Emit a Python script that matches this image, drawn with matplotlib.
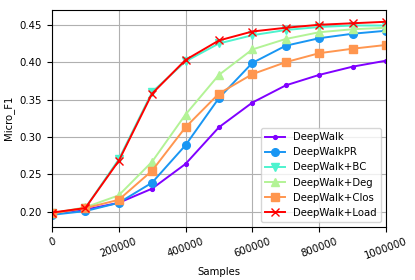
import matplotlib
matplotlib.use("Agg")
import matplotlib.pyplot as plt
import numpy as np

samples = [0, 100000, 200000, 300000, 400000, 500000, 600000, 700000, 800000, 900000, 1000000]

deepwalk = [0.197, 0.203, 0.212, 0.231, 0.264, 0.313, 0.346, 0.369, 0.383, 0.394, 0.402]
deepwalk_pr = [0.196, 0.201, 0.212, 0.239, 0.289, 0.352, 0.399, 0.422, 0.432, 0.438, 0.442]
deepwalk_bc = [0.198, 0.205, 0.270, 0.360, 0.401, 0.425, 0.436, 0.443, 0.447, 0.449, 0.449]
deepwalk_deg = [0.198, 0.206, 0.222, 0.267, 0.330, 0.383, 0.417, 0.431, 0.440, 0.444, 0.446]
deepwalk_clos = [0.198, 0.205, 0.216, 0.255, 0.313, 0.358, 0.384, 0.400, 0.412, 0.418, 0.423]
deepwalk_load = [0.199, 0.205, 0.268, 0.358, 0.403, 0.429, 0.441, 0.446, 0.450, 0.452, 0.454]

x_ticks = [0, 200000, 400000, 600000, 800000, 1000000]
y_ticks = [0.20, 0.25, 0.30, 0.35, 0.40, 0.45]

series = [
    ("DeepWalk", deepwalk, "."),
    ("DeepWalkPR", deepwalk_pr, "o"),
    ("DeepWalk+BC", deepwalk_bc, "v"),
    ("DeepWalk+Deg", deepwalk_deg, "^"),
    ("DeepWalk+Clos", deepwalk_clos, "s"),
    ("DeepWalk+Load", deepwalk_load, "x"),
]

colors = plt.cm.rainbow(np.linspace(0, 1, len(series)))
fs = 7.3

fig, ax = plt.subplots(figsize=(4.15, 2.8), dpi=100)
for (name, vals, marker), c in zip(series, colors):
    ax.plot(samples, vals, marker=marker, color=c, label=name, linewidth=1.4, markersize=5.5)

ax.set_xlim(0, 1000000)
ax.set_ylim(0.18, 0.47)
ax.set_xticks(x_ticks)
ax.set_xticklabels([str(t) for t in x_ticks])
ax.set_yticks(y_ticks)
ax.set_yticklabels([f"{t:.2f}" for t in y_ticks])
ax.set_xlabel("Samples", fontsize=fs)
ax.set_ylabel("Micro_F1", fontsize=fs)
ax.tick_params(axis="x", labelrotation=20, labelsize=fs)
ax.tick_params(axis="y", labelsize=fs)
ax.grid(True)
ax.legend(loc="lower right", fontsize=fs)

fig.subplots_adjust(left=0.125, right=0.93, top=0.965, bottom=0.19)
fig.savefig("out.png", dpi=100)
